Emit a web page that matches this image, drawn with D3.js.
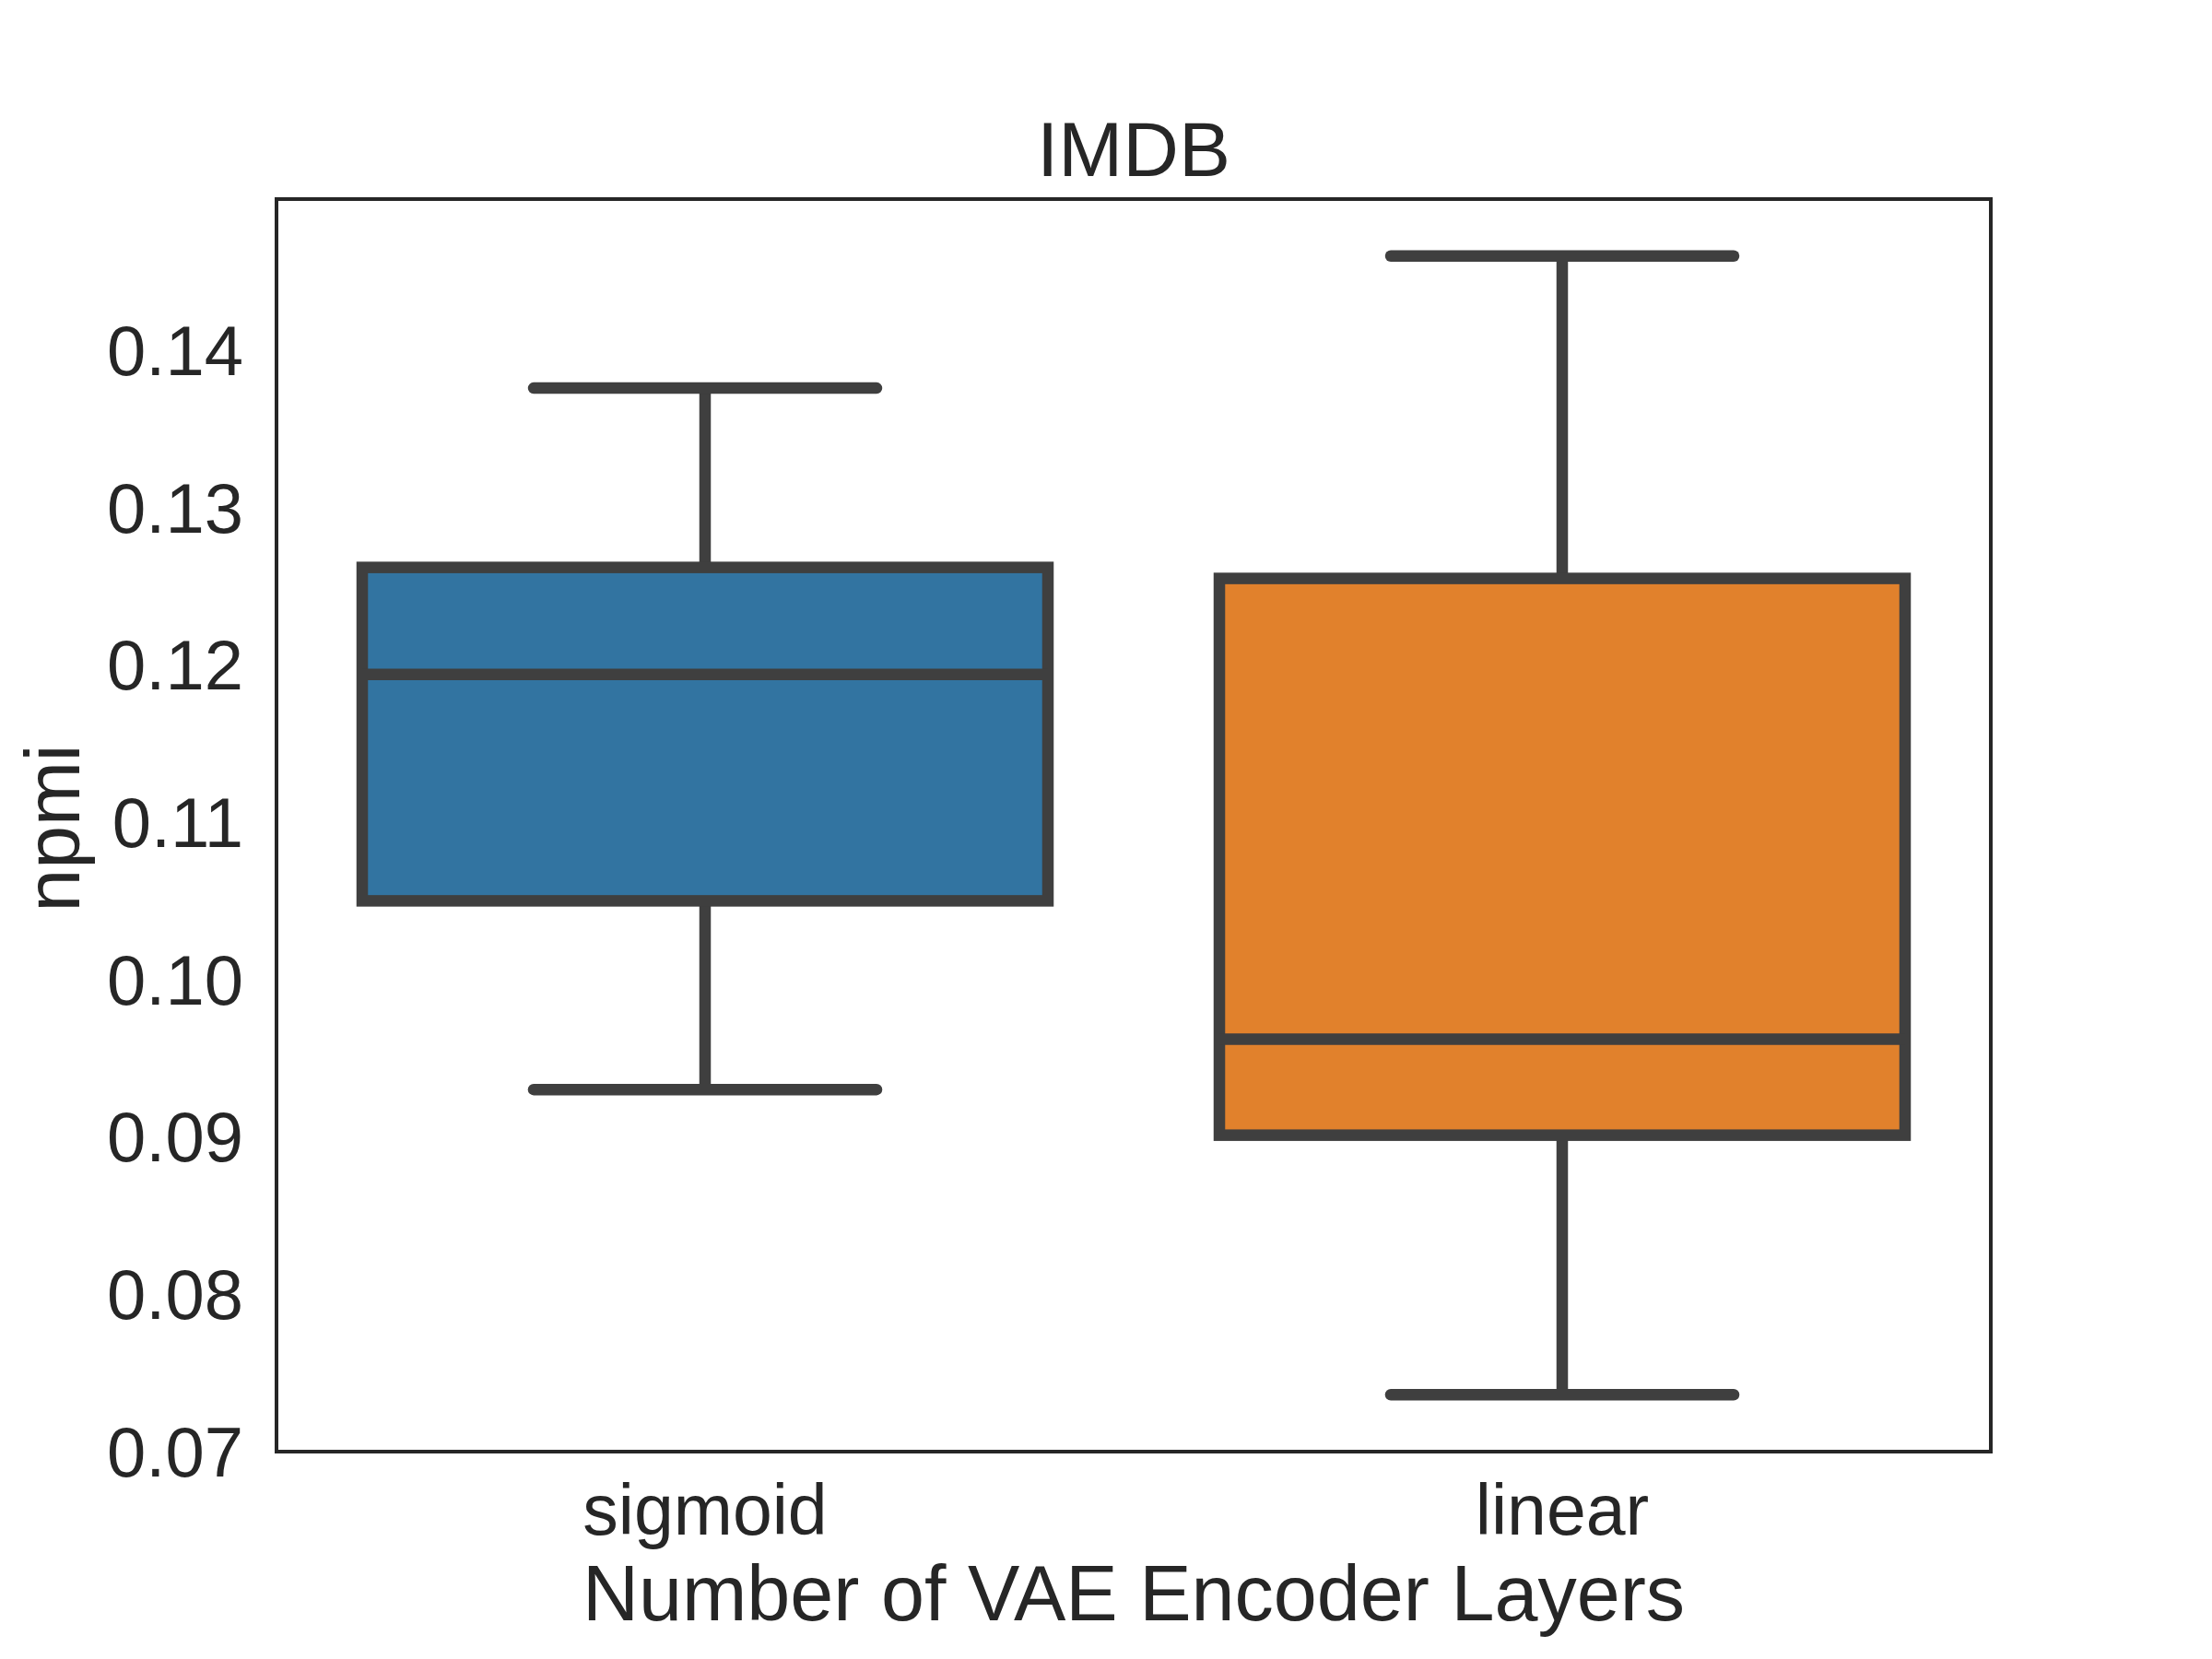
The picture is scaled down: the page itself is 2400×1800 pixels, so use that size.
<!DOCTYPE html>
<html>
<head>
<meta charset="utf-8">
<script src="https://cdnjs.cloudflare.com/ajax/libs/d3/7.8.5/d3.min.js"></script>
<style>
  html, body { margin: 0; padding: 0; background: #ffffff; }
  svg { display: block; }
  text { font-family: "Liberation Sans", Arial, sans-serif; fill: #262626; }
</style>
</head>
<body>
<svg id="chart" width="2400" height="1800"></svg>
<script>
// ---- data ----
const categories = ["sigmoid", "linear"];
const whiskerLow  = [0.0930, 0.0736];
const q1          = [0.1050, 0.0901];
const medians     = [0.1194, 0.0962];
const q3          = [0.1262, 0.1255];
const whiskerHigh = [0.1376, 0.1460];
const boxColors   = ["#3274a1", "#e1812c"];
const yTicks      = [0.07, 0.08, 0.09, 0.10, 0.11, 0.12, 0.13, 0.14];
const yTickLabels = ["0.07", "0.08", "0.09", "0.10", "0.11", "0.12", "0.13", "0.14"];
const titleText   = "IMDB";
const xLabelText  = "Number of VAE Encoder Layers";
const yLabelText  = "npmi";

// ---- layout ----
const plot = { left: 300, right: 2160, top: 216, bottom: 1575 };
const lineColor = "#3f3f3f";
const lw = 12.5;

const svg = d3.select("#chart");

const lo = d3.min(whiskerLow), hi = d3.max(whiskerHigh);
const pad = (hi - lo) * 0.05;
const y = d3.scaleLinear().domain([lo - pad, hi + pad]).range([plot.bottom, plot.top]);
const x = d3.scaleBand().domain(categories).range([plot.left, plot.right]).padding(0);
const bw = x.bandwidth();
const boxW = bw * 0.8;
const capW = bw * 0.4;

const data = categories.map((c, i) => ({
  cat: c, low: whiskerLow[i], q1: q1[i], med: medians[i], q3: q3[i], high: whiskerHigh[i], color: boxColors[i]
}));

const g = svg.append("g");
const groups = g.selectAll("g.box").data(data).join("g").attr("class", "box");

// whiskers
groups.append("line")
  .attr("x1", d => x(d.cat) + bw / 2).attr("x2", d => x(d.cat) + bw / 2)
  .attr("y1", d => y(d.q3)).attr("y2", d => y(d.high))
  .attr("stroke", lineColor).attr("stroke-width", lw);
groups.append("line")
  .attr("x1", d => x(d.cat) + bw / 2).attr("x2", d => x(d.cat) + bw / 2)
  .attr("y1", d => y(d.q1)).attr("y2", d => y(d.low))
  .attr("stroke", lineColor).attr("stroke-width", lw);
// caps
groups.append("line")
  .attr("x1", d => x(d.cat) + bw / 2 - capW / 2).attr("x2", d => x(d.cat) + bw / 2 + capW / 2)
  .attr("y1", d => y(d.high)).attr("y2", d => y(d.high))
  .attr("stroke", lineColor).attr("stroke-width", lw).attr("stroke-linecap", "round");
groups.append("line")
  .attr("x1", d => x(d.cat) + bw / 2 - capW / 2).attr("x2", d => x(d.cat) + bw / 2 + capW / 2)
  .attr("y1", d => y(d.low)).attr("y2", d => y(d.low))
  .attr("stroke", lineColor).attr("stroke-width", lw).attr("stroke-linecap", "round");
// boxes
groups.append("rect")
  .attr("x", d => x(d.cat) + bw / 2 - boxW / 2)
  .attr("width", boxW)
  .attr("y", d => y(d.q3))
  .attr("height", d => y(d.q1) - y(d.q3))
  .attr("fill", d => d.color)
  .attr("stroke", lineColor).attr("stroke-width", lw);
// medians
groups.append("line")
  .attr("x1", d => x(d.cat) + bw / 2 - boxW / 2).attr("x2", d => x(d.cat) + bw / 2 + boxW / 2)
  .attr("y1", d => y(d.med)).attr("y2", d => y(d.med))
  .attr("stroke", lineColor).attr("stroke-width", lw);

// frame
svg.append("rect")
  .attr("x", plot.left).attr("y", plot.top)
  .attr("width", plot.right - plot.left).attr("height", plot.bottom - plot.top)
  .attr("fill", "none").attr("stroke", "#262626").attr("stroke-width", 4);

// y axis
const yAxis = d3.axisLeft(y).tickValues(yTicks).tickSize(0).tickPadding(36)
  .tickFormat((d, i) => yTickLabels[i]);
const yg = svg.append("g").attr("transform", `translate(${plot.left},0)`).call(yAxis);
yg.select(".domain").remove();
yg.selectAll("text")
  .attr("font-size", 76)
  .attr("font-family", "Liberation Sans, Arial, sans-serif")
  .attr("fill", "#262626")
  .attr("dy", null)
  .attr("dominant-baseline", "central");

// x axis
const xAxis = d3.axisBottom(x).tickSize(0).tickPadding(0);
const xg = svg.append("g").attr("transform", `translate(0,${plot.bottom})`).call(xAxis);
xg.select(".domain").remove();
xg.selectAll("text")
  .attr("font-size", 77)
  .attr("font-family", "Liberation Sans, Arial, sans-serif")
  .attr("fill", "#262626")
  .attr("dy", null)
  .attr("y", 90);

// title
svg.append("text").attr("x", (plot.left + plot.right) / 2).attr("y", 191)
  .attr("text-anchor", "middle").attr("font-size", 84).text(titleText);
// x label
svg.append("text").attr("x", (plot.left + plot.right) / 2).attr("y", 1758)
  .attr("text-anchor", "middle").attr("font-size", 84.5).text(xLabelText);
// y label
svg.append("text").attr("transform", `translate(86,${(plot.top + plot.bottom) / 2 + 3}) rotate(-90)`)
  .attr("text-anchor", "middle").attr("font-size", 84).text(yLabelText);
</script>
</body>
</html>
